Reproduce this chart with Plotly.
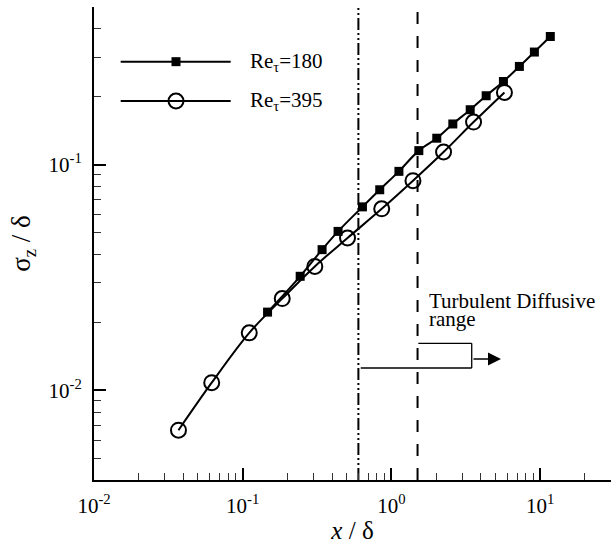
import plotly.graph_objects as go
import numpy as np

# ---------------- data ----------------
x_re180 = [0.147, 0.2436, 0.342, 0.438, 0.639, 0.835, 1.124, 1.53, 2.02, 2.59,
           3.39, 4.34, 5.67, 7.26, 9.16, 11.72]
y_re180 = [0.0222, 0.032, 0.042, 0.0506, 0.065, 0.0774, 0.0934, 0.1154, 0.131, 0.1515,
           0.1752, 0.2021, 0.2338, 0.2726, 0.3157, 0.370]

x_re395 = [0.037, 0.0619, 0.1107, 0.1845, 0.3056, 0.507, 0.861, 1.397, 2.244, 3.57, 5.76]
y_re395 = [0.00665, 0.0108, 0.01796, 0.02548, 0.0354, 0.0473, 0.0637, 0.0849, 0.1138,
           0.1545, 0.209]

ref_x_dashdot = 0.6
ref_x_dash = 1.5

x_range = [0.01, 30]
y_range = [0.004, 0.5]

x_major = [0.01, 0.1, 1, 10]
x_major_text = ["10<sup>-2</sup>", "10<sup>-1</sup>", "10<sup>0</sup>", "10<sup>1</sup>"]
y_major = [0.01, 0.1]
y_major_text = ["10<sup>-2</sup>", "10<sup>-1</sup>"]

legend_labels = ["Re<sub>τ</sub>=180", "Re<sub>τ</sub>=395"]
annot_text = ["Turbulent Diffusive", "range"]

# minor ticks
x_minor = [m * 10.0 ** e for e in range(-2, 2) for m in range(2, 10)]
x_minor = [v for v in x_minor if x_range[0] < v < x_range[1]]
y_minor = [m * 10.0 ** e for e in range(-3, 0) for m in range(2, 10)]
y_minor = [v for v in y_minor if y_range[0] <= v <= y_range[1]]

FONT = "Liberation Serif, Times New Roman, serif"

fig = go.Figure()

# reference lines
fig.add_trace(go.Scatter(x=[ref_x_dashdot, ref_x_dashdot], y=y_range, mode="lines",
                         line=dict(color="black", width=2, dash="12px,3px,2px,3px,2px,3px"),
                         showlegend=False, hoverinfo="skip"))
fig.add_trace(go.Scatter(x=[ref_x_dash, ref_x_dash], y=y_range, mode="lines",
                         line=dict(color="black", width=2, dash="12px,12px"),
                         showlegend=False, hoverinfo="skip"))

# data series
fig.add_trace(go.Scatter(x=x_re180, y=y_re180, mode="lines+markers",
                         line=dict(color="black", width=2, shape="spline"),
                         marker=dict(symbol="square", size=9, color="black"),
                         showlegend=False))
fig.add_trace(go.Scatter(x=x_re395, y=y_re395, mode="lines+markers",
                         line=dict(color="black", width=2, shape="spline"),
                         marker=dict(symbol="circle-open", size=15, color="black",
                                     line=dict(width=2, color="black")),
                         showlegend=False))

# legend samples on an overlay axis in [0,1]
leg_x = [0.0516, 0.2644]
leg_mx = 0.1586
leg_y = [0.8844, 0.8013]
fig.add_trace(go.Scatter(x=leg_x, y=[leg_y[0]] * 2, xaxis="x2", yaxis="y2", mode="lines",
                         line=dict(color="black", width=2), showlegend=False, hoverinfo="skip"))
fig.add_trace(go.Scatter(x=[leg_mx], y=[leg_y[0]], xaxis="x2", yaxis="y2", mode="markers",
                         marker=dict(symbol="square", size=9, color="black"),
                         showlegend=False, hoverinfo="skip"))
fig.add_trace(go.Scatter(x=leg_x, y=[leg_y[1]] * 2, xaxis="x2", yaxis="y2", mode="lines",
                         line=dict(color="black", width=2), showlegend=False, hoverinfo="skip"))
fig.add_trace(go.Scatter(x=[leg_mx], y=[leg_y[1]], xaxis="x2", yaxis="y2", mode="markers",
                         marker=dict(symbol="circle-open", size=15, color="black",
                                     line=dict(width=2, color="black")),
                         showlegend=False, hoverinfo="skip"))

annotations = []
for lbl, yy in zip(legend_labels, leg_y):
    annotations.append(dict(x=0.2979, y=yy, xref="paper", yref="paper", text=lbl,
                            showarrow=False, xanchor="left", yanchor="middle",
                            font=dict(family=FONT, size=21, color="black")))

# bracket annotation (paper coordinates)
bx_left, bx_mid, bx_right, bx_arrow = 0.5159, 0.6273, 0.7306, 0.7872
by_low, by_high, by_arrow = 0.2368, 0.289, 0.2558
shapes = [
    dict(type="line", xref="paper", yref="paper", x0=bx_left, x1=bx_right, y0=by_low, y1=by_low,
         line=dict(color="black", width=1.3)),
    dict(type="line", xref="paper", yref="paper", x0=bx_mid, x1=bx_right, y0=by_high, y1=by_high,
         line=dict(color="black", width=1.3)),
    dict(type="line", xref="paper", yref="paper", x0=bx_right, x1=bx_right, y0=by_low, y1=by_high,
         line=dict(color="black", width=1.3)),
]
annotations.append(dict(x=bx_arrow, y=by_arrow, xref="paper", yref="paper", ax=-29, ay=0,
                        text="", showarrow=True, arrowhead=2, arrowsize=2.0, arrowwidth=1.3,
                        arrowcolor="black"))
annotations.append(dict(x=0.644, y=0.3784, xref="paper", yref="paper", text=annot_text[0],
                        showarrow=False, xanchor="left", yanchor="middle",
                        font=dict(family=FONT, size=21, color="black")))
annotations.append(dict(x=0.644, y=0.3404, xref="paper", yref="paper", text=annot_text[1],
                        showarrow=False, xanchor="left", yanchor="middle",
                        font=dict(family=FONT, size=21, color="black")))

fig.update_layout(
    width=611, height=544,
    margin=dict(l=94, r=0, t=7, b=64),
    paper_bgcolor="white", plot_bgcolor="white",
    font=dict(family=FONT, size=21, color="black"),
    showlegend=False,
    xaxis=dict(type="log", range=[np.log10(x_range[0]), np.log10(x_range[1])],
               showgrid=False, zeroline=False, showline=True, linewidth=2, linecolor="black",
               ticks="inside", ticklen=12, tickwidth=2, tickcolor="black",
               tickvals=x_major, ticktext=x_major_text, ticklabelstandoff=6,
               tickfont=dict(family=FONT, size=21, color="black"),
               minor=dict(tickvals=x_minor, ticks="inside", ticklen=7, tickwidth=1.3,
                          tickcolor="#333", showgrid=False),
               title=dict(text="<i>x</i> / δ", font=dict(family=FONT, size=25, color="black"),
                          standoff=4)),
    yaxis=dict(type="log", range=[np.log10(y_range[0]), np.log10(y_range[1])],
               showgrid=False, zeroline=False, showline=True, linewidth=2, linecolor="black",
               ticks="inside", ticklen=12, tickwidth=2, tickcolor="black",
               tickvals=y_major, ticktext=y_major_text, ticklabelstandoff=6,
               tickfont=dict(family=FONT, size=21, color="black"),
               minor=dict(tickvals=y_minor, ticks="inside", ticklen=7, tickwidth=1.3,
                          tickcolor="#333", showgrid=False),
               title=dict(text="σ<sub>z</sub> / δ", font=dict(family=FONT, size=27, color="black"),
                          standoff=10)),
    xaxis2=dict(overlaying="x", range=[0, 1], visible=False, fixedrange=True),
    yaxis2=dict(overlaying="y", range=[0, 1], visible=False, fixedrange=True),
    shapes=shapes,
    annotations=annotations,
)

fig.write_html("out.html")
